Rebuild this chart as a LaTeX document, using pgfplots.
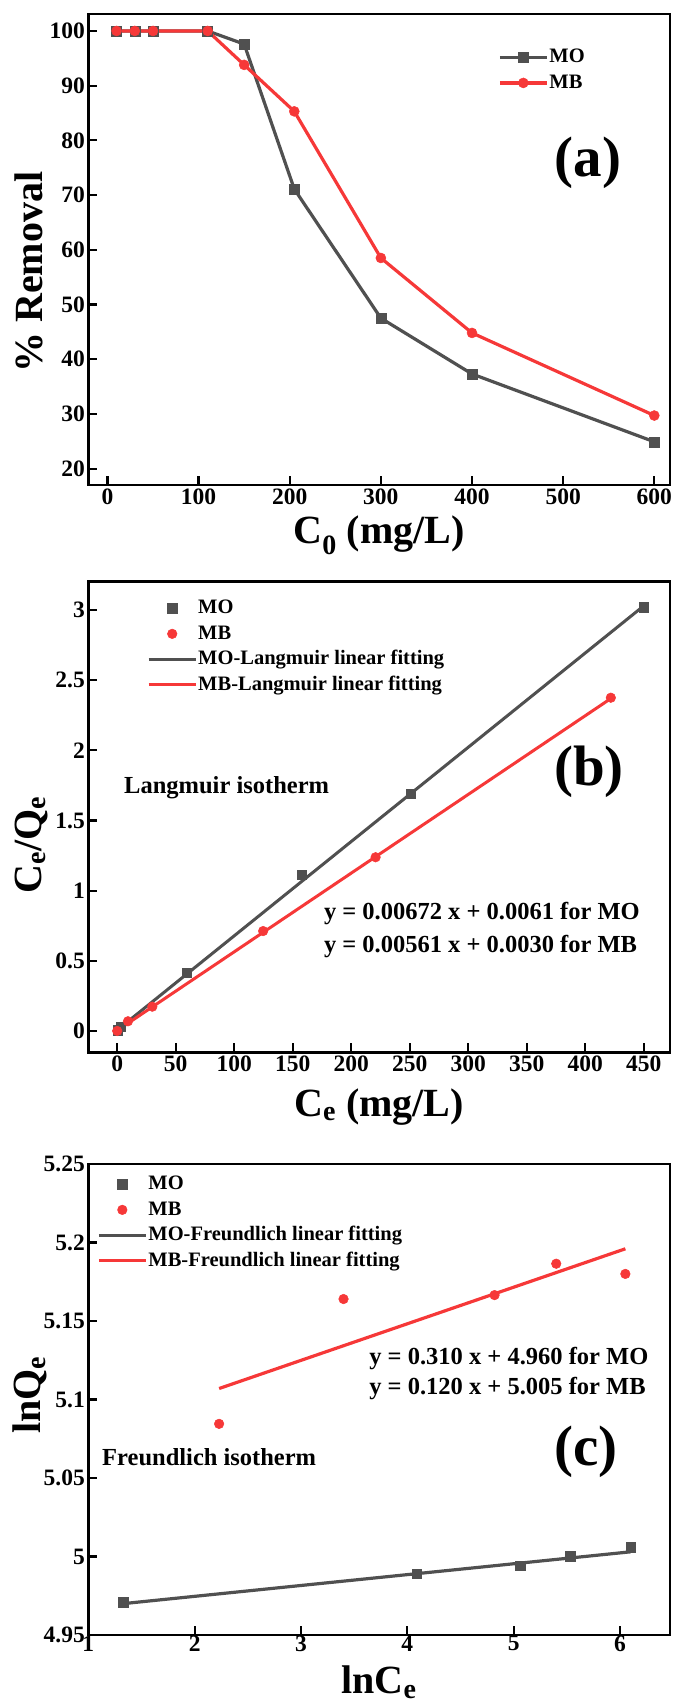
\documentclass[border=0pt]{standalone}
\usepackage{fontspec}
\setmainfont{Liberation Serif}
\usepackage{pgfplots}
\pgfplotsset{compat=1.18}
\definecolor{mo}{RGB}{80,80,80}
\definecolor{mb}{RGB}{246,56,56}

\tikzset{
  annot/.style={font=\fontsize{24.5}{26}\selectfont\bfseries, inner sep=0pt},
  panel/.style={font=\fontsize{57}{60}\selectfont\bfseries, inner sep=0pt},
}
\pgfplotsset{
  myaxis/.style={
    scale only axis, width=581.5pt, height=471pt,
    axis line style={line width=2.5pt},
    tick align=inside, xtick pos=bottom, ytick pos=left,
    major tick length=9pt,
    every tick/.style={black, line width=2.2pt},
    tick label style={font=\fontsize{23.5}{25}\selectfont\bfseries},
    /pgf/number format/assume math mode=true,
    label style={font=\fontsize{40}{42}\selectfont\bfseries},
    xlabel style={at={(axis description cs:0.5,0)}, anchor=north, yshift=-31pt, inner sep=0pt},
    ylabel style={anchor=center, inner sep=0pt},
    legend cell align=left,
    legend style={draw=none, fill=none, inner sep=0pt, row sep=5pt,
      font=\fontsize{20.5}{22}\selectfont\bfseries,
      nodes={inner sep=1pt, text height=14.5pt, text depth=4pt}},
    legend image code/.code={\draw[mark repeat=2,mark phase=2] plot coordinates {(0pt,0pt) (23.5pt,0pt) (47pt,0pt)};},
    clip=false,
  },
  mo/.style={color=mo, line width=3.2pt, mark=square*, mark size=5pt, mark options={solid, fill=mo, line width=0.5pt}},
  mb/.style={color=mb, line width=3.2pt, mark=*, mark size=5pt, mark options={solid, fill=mb, line width=0.5pt}},
}

\begin{document}
\begin{tikzpicture}
\useasboundingbox (0pt,0pt) rectangle (673pt,-1703pt);

% ---------------- (a)
\begin{axis}[myaxis,
  at={(88.3pt,-14pt)}, anchor=north west,
  xmin=-21, xmax=617, ymin=17, ymax=103.1,
  xtick={0,100,200,300,400,500,600},
  ytick={20,30,40,50,60,70,80,90,100},
  xlabel={C\textsubscript{0} (mg/L)},
  ylabel={\% Removal},
  ylabel style={at={(axis description cs:-0.1017,0.452)}},
  legend style={at={(axis description cs:0.7046,0.930)}, anchor=north west},
]
\addplot[mo] coordinates {(10,100) (30,100) (50,100) (110,100) (150,97.6) (205,71.1) (300,47.5) (400,37.3) (600,24.9)};
\addlegendentry{MO}
\addplot[mb] coordinates {(10,100) (30,100) (50,100) (110,100) (150,93.8) (205,85.3) (300,58.5) (400,44.8) (600,29.7)};
\addlegendentry{MB}
\node[panel] at (axis description cs:0.859,0.684) {(a)};
\end{axis}

% ---------------- (b)
\begin{axis}[myaxis,
  at={(88.3pt,-581.4pt)}, anchor=north west,
  xmin=-24.7, xmax=472.2, ymin=-0.153, ymax=3.204,
  xtick={0,50,100,150,200,250,300,350,400,450},
  ytick={0,0.5,1,1.5,2,2.5,3},
  xlabel={C\textsubscript{e} (mg/L)},
  xlabel style={yshift=-5pt},
  ylabel={C\textsubscript{e}/Q\textsubscript{e}},
  ylabel style={at={(axis description cs:-0.0985,0.441)}},
  legend style={at={(axis description cs:0.101,0.965)}, anchor=north west},
]
\addplot[mo, only marks, mark size=4.6pt] coordinates {(0.7,0.005) (3,0.03) (59.4,0.414) (157.7,1.114) (250.9,1.691) (450,3.02)};
\addlegendentry{MO}
\addplot[mb, only marks, mark size=4.8pt] coordinates {(0,0) (9.2,0.069) (30,0.173) (124.7,0.712) (220.8,1.238) (421.8,2.375)};
\addlegendentry{MB}
\addplot[color=mo, line width=3pt, no marks] coordinates {(0,0.0061) (450,3.0301)};
\addlegendentry{MO-Langmuir linear fitting}
\addplot[color=mb, line width=3pt, no marks] coordinates {(0,0.003) (422,2.3704)};
\addlegendentry{MB-Langmuir linear fitting}
\node[panel] at (axis description cs:0.861,0.595) {(b)};
\node[annot, anchor=west] at (axis description cs:0.0614,0.562) {Langmuir isotherm};
\node[annot, anchor=west] at (axis description cs:0.405,0.2946) {y = 0.00672 x + 0.0061 for MO};
\node[annot, anchor=west] at (axis description cs:0.405,0.2253) {y = 0.00561 x + 0.0030 for MB};
\end{axis}

% ---------------- (c)
\begin{axis}[myaxis,
  at={(88.3pt,-1164pt)}, anchor=north west,
  xmin=1, xmax=6.468, ymin=4.95, ymax=5.25,
  xtick={1,2,3,4,5,6},
  ytick={4.95,5,5.05,5.1,5.15,5.2,5.25},
  yticklabels={4.95,5,5.05,5.1,5.15,5.2,5.25},
  xticklabel style={yshift=3pt},
  xlabel={lnC\textsubscript{e}},
  ylabel={lnQ\textsubscript{e}},
  ylabel style={at={(axis description cs:-0.1,0.51)}},
  legend style={at={(axis description cs:0.015,0.979)}, anchor=north west},
]
\addplot[mo, only marks, mark size=4.8pt] coordinates {(1.33,4.971) (4.09,4.989) (5.06,4.994) (5.53,5.000) (6.10,5.006)};
\addlegendentry{MO}
\addplot[mb, only marks, mark size=4.8pt] coordinates {(2.23,5.0845) (3.40,5.164) (4.82,5.1665) (5.40,5.1865) (6.05,5.180)};
\addlegendentry{MB}
\addplot[color=mo, line width=3.2pt, no marks] coordinates {(1.33,4.970) (6.10,5.003)};
\addlegendentry{MO-Freundlich linear fitting}
\addplot[color=mb, line width=3.2pt, no marks] coordinates {(2.23,5.107) (6.05,5.196)};
\addlegendentry{MB-Freundlich linear fitting}
\node[panel] at (axis description cs:0.856,0.389) {(c)};
\node[annot, anchor=west] at (axis description cs:0.0236,0.378) {Freundlich isotherm};
\node[annot, anchor=west] at (axis description cs:0.483,0.588) {y = 0.310 x + 4.960 for MO};
\node[annot, anchor=west] at (axis description cs:0.483,0.524) {y = 0.120 x + 5.005 for MB};
\end{axis}
\end{tikzpicture}
\end{document}
